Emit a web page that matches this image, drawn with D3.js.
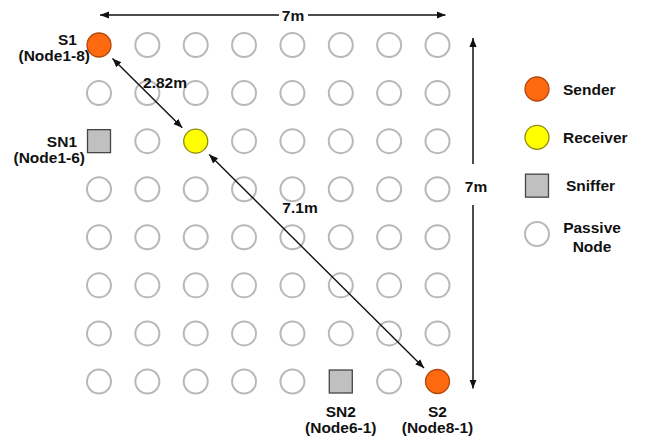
<!DOCTYPE html>
<html><head><meta charset="utf-8">
<script src="https://cdn.jsdelivr.net/npm/d3@7"></script>
<style>
html,body{margin:0;padding:0;background:#fff;}
svg{display:block;}
text{font-family:Arial,"Liberation Sans",sans-serif;font-weight:bold;fill:#111;}
</style></head>
<body>
<script>
// ---- data ----
const gridCols = [1,2,3,4,5,6,7,8];
const gridRows = [1,2,3,4,5,6,7,8];
const specialNodes = [
  {col:1,row:8,type:"sender",  name:"S1", id:"(Node1-8)"},
  {col:8,row:1,type:"sender",  name:"S2", id:"(Node8-1)"},
  {col:3,row:6,type:"receiver",name:"",   id:""},
  {col:1,row:6,type:"sniffer", name:"SN1",id:"(Node1-6)"},
  {col:6,row:1,type:"sniffer", name:"SN2",id:"(Node6-1)"}
];
const links = [
  {from:[1,8], to:[3,6], label:"2.82m"},
  {from:[3,6], to:[8,1], label:"7.1m"}
];
const spanLabel = "7m";
const legendItems = [
  {type:"sender",  label:["Sender"]},
  {type:"receiver",label:["Receiver"]},
  {type:"sniffer", label:["Sniffer"]},
  {type:"passive", label:["Passive","Node"]}
];

const W=646,H=439;
const svg=d3.select("body").append("svg").attr("width",W).attr("height",H);
const x=d3.scaleLinear().domain([1,8]).range([99,437.5]);
const y=d3.scaleLinear().domain([1,8]).range([381.5,45]);
const FS=15.5;

const style={
  sender:{fill:"#ff6a10",stroke:"#b3470e"},
  receiver:{fill:"#ffff00",stroke:"#8c8c10"},
  sniffer:{fill:"#c0c0c0",stroke:"#454545"},
  passive:{fill:"#ffffff",stroke:"#b8b8b8"}
};
const R=12, SQ=23;

const defs=svg.append("defs");
defs.append("marker").attr("id","ah").attr("viewBox","0 0 10 10").attr("refX",10).attr("refY",5)
  .attr("markerWidth",9).attr("markerHeight",9).attr("markerUnits","userSpaceOnUse").attr("orient","auto-start-reverse")
  .append("path").attr("d","M0,1 L10,5 L0,9 Z").attr("fill","#111");

function drawNode(g,type,cx,cy){
  if(type==="sniffer"){
    g.append("rect").attr("x",cx-SQ/2).attr("y",cy-SQ/2).attr("width",SQ).attr("height",SQ)
      .attr("fill",style.sniffer.fill).attr("stroke",style.sniffer.stroke).attr("stroke-width",1.3);
  } else {
    g.append("circle").attr("cx",cx).attr("cy",cy).attr("r",R)
      .attr("fill",style[type].fill).attr("stroke",style[type].stroke)
      .attr("stroke-width",type==="passive"?2:1.3);
  }
}

// grid of nodes
const special=new Map(specialNodes.map(d=>[d.col+"-"+d.row,d]));
const gNodes=svg.append("g");
gridRows.forEach(r=>gridCols.forEach(c=>{
  const s=special.get(c+"-"+r);
  drawNode(gNodes,s?s.type:"passive",x(c),y(r));
}));

// dimension arrows
const topY=15, vx=473;
svg.append("line").attr("x1",x(1)+1).attr("y1",topY).attr("x2",279).attr("y2",topY)
  .attr("stroke","#111").attr("stroke-width",1.5).attr("marker-start","url(#ah)");
svg.append("line").attr("x1",308).attr("y1",topY).attr("x2",x(8)+8).attr("y2",topY)
  .attr("stroke","#111").attr("stroke-width",1.5).attr("marker-end","url(#ah)");
svg.append("text").attr("x",293).attr("y",topY+5.5).attr("text-anchor","middle").attr("font-size",FS).text(spanLabel);

svg.append("line").attr("x1",vx).attr("y1",y(8)-7).attr("x2",vx).attr("y2",164)
  .attr("stroke","#111").attr("stroke-width",1.5).attr("marker-start","url(#ah)");
svg.append("line").attr("x1",vx).attr("y1",205).attr("x2",vx).attr("y2",y(1)+7)
  .attr("stroke","#111").attr("stroke-width",1.5).attr("marker-end","url(#ah)");
svg.append("text").attr("x",vx+3).attr("y",192).attr("text-anchor","middle").attr("font-size",FS).text(spanLabel);

// distance links
const lblPos={"2.82m":[165,88],"7.1m":[300,213]};
links.forEach(l=>{
  const x1=x(l.from[0]),y1=y(l.from[1]),x2=x(l.to[0]),y2=y(l.to[1]);
  const dx=x2-x1,dy=y2-y1,len=Math.hypot(dx,dy),ux=dx/len,uy=dy/len,off=19;
  svg.append("line").attr("x1",x1+ux*off).attr("y1",y1+uy*off).attr("x2",x2-ux*off).attr("y2",y2-uy*off)
    .attr("stroke","#111").attr("stroke-width",1.4)
    .attr("marker-start","url(#ah)").attr("marker-end","url(#ah)");
  const p=lblPos[l.label];
  svg.append("text").attr("x",p[0]).attr("y",p[1]).attr("text-anchor","middle").attr("font-size",FS).text(l.label);
});

// node labels (offsets relative to the node centre)
const labelOff={
  "S1": {anchor:"end",   n:[-22,0],  i:[-9,16]},
  "SN1":{anchor:"end",   n:[-22,5.5],i:[-14,21.5]},
  "SN2":{anchor:"middle",n:[0,35],   i:[0,51]},
  "S2": {anchor:"middle",n:[0,35],   i:[0,51]}
};
specialNodes.filter(d=>d.name).forEach(d=>{
  const cx=x(d.col),cy=y(d.row),o=labelOff[d.name];
  svg.append("text").attr("x",cx+o.n[0]).attr("y",cy+o.n[1]).attr("text-anchor",o.anchor).attr("font-size",FS).text(d.name);
  svg.append("text").attr("x",cx+o.i[0]).attr("y",cy+o.i[1]).attr("text-anchor",o.anchor).attr("font-size",FS).text(d.id);
});

// legend
const lx=537, ly=d3.scaleLinear().domain([0,3]).range([89,234]);
legendItems.forEach((it,i)=>{
  const cy=ly(i);
  drawNode(svg,it.type,lx,cy);
  if(it.label.length===1){
    svg.append("text").attr("x",it.type==="sniffer"?566:563).attr("y",cy+5.5).attr("font-size",FS).text(it.label[0]);
  } else {
    svg.append("text").attr("x",592).attr("y",cy-1).attr("text-anchor","middle").attr("font-size",FS).text(it.label[0]);
    svg.append("text").attr("x",592).attr("y",cy+18).attr("text-anchor","middle").attr("font-size",FS).text(it.label[1]);
  }
});
</script>
</body></html>
